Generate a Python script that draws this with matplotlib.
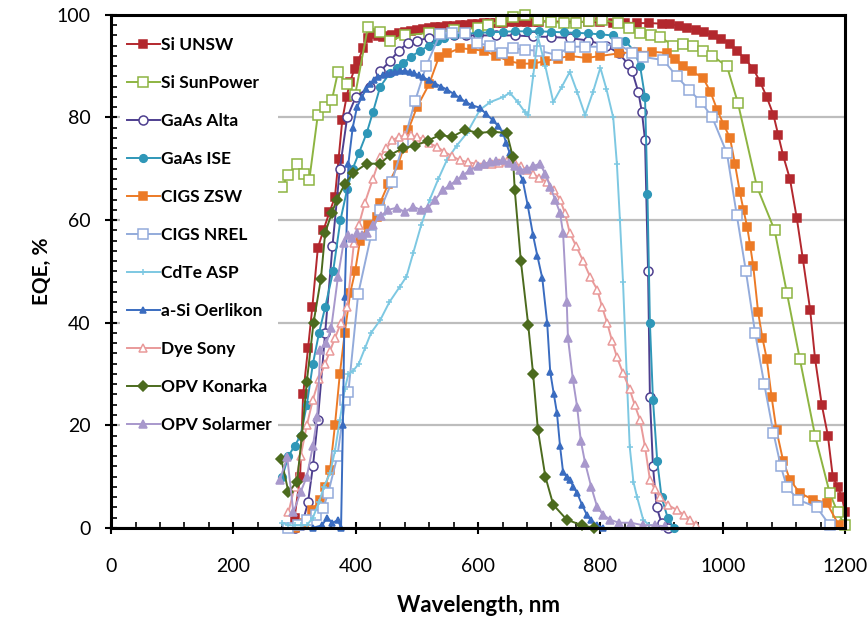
import matplotlib
matplotlib.use("Agg")
import matplotlib.pyplot as plt
from matplotlib.ticker import MultipleLocator

plt.rcParams['font.family'] = ['Lato', 'DejaVu Sans']

# ---- data (wavelength nm, EQE %) ----
wl_si_unsw = [300, 309, 314, 322, 329, 338, 347, 357, 366, 372, 378, 385, 391, 398, 404, 412, 420, 428, 436,
              444, 452, 460, 470, 480, 490, 500, 510, 520, 530, 540, 550, 560, 570, 580, 590, 600, 610, 620,
              630, 640, 650, 660, 670, 680, 690, 700, 720, 740, 760, 780, 800, 820, 840, 860, 880, 900, 914,
              928, 942, 956, 970, 984, 998, 1012, 1023, 1036, 1050, 1061, 1072, 1083, 1091, 1099, 1110, 1121,
              1131, 1143, 1151, 1162, 1172, 1180, 1188, 1195, 1200]
eqe_si_unsw = [2, 10, 26, 35, 43, 54.5, 58, 61.5, 64.5, 72, 79.5, 84, 87, 89.5, 91, 93.5, 95.5, 96.3, 95.8,
               95.6, 95.8, 96.1, 96.4, 96.7, 96.9, 97.1, 97.3, 97.5, 97.6, 97.7, 97.8, 97.9, 98.0, 98.1, 98.2,
               98.3, 98.4, 98.4, 98.5, 98.5, 98.6, 98.6, 98.6, 98.7, 98.7, 98.7, 98.7, 98.7, 98.7, 98.6, 98.6,
               98.5, 98.5, 98.4, 98.4, 98.3, 98.2, 97.9, 97.5, 97.1, 96.6, 96, 95.3, 94.3, 93, 91.5, 89.5, 87,
               84, 80.5, 76.5, 72.5, 68, 60.5, 52.5, 42.5, 33, 24, 18, 10, 8, 6, 3]

wl_si_sunpower = [279, 290, 304, 315, 324, 338, 350, 361, 371, 385, 399, 420, 440, 456, 480, 520, 560, 600, 617,
                  637, 657, 677, 698, 720, 740, 760, 782, 803, 829, 847, 865, 882, 898, 919, 935, 952, 968, 983,
                  1007, 1025, 1056, 1085, 1105, 1126, 1151, 1175, 1188, 1200]
eqe_si_sunpower = [66.5, 68.8, 71, 69, 67.8, 80.5, 82, 83.4, 88.9, 86.5, 84.4, 97.7, 96.7, 95, 96, 96.5, 97, 97.5,
                   98, 98.8, 99.6, 100, 99, 98.6, 98.4, 98.5, 98.8, 99, 98.4, 97.5, 96.5, 96, 95.7, 94, 94.3, 94,
                   93, 92, 90, 82.8, 66.5, 58, 45.8, 33, 18, 6.8, 3, 0.5]

wl_gaas_alta = [300, 312, 322, 330, 338, 350, 362, 374, 386, 400, 423, 440, 456, 470, 485, 500, 520, 540, 560,
                580, 600, 630, 660, 690, 720, 750, 780, 810, 830, 845, 852, 862, 868, 873, 878, 881, 886, 892,
                900, 910]
eqe_gaas_alta = [0, 0.5, 5, 12, 21, 38, 55, 70, 80, 84, 86, 89, 91, 93, 94.5, 95, 95.5, 95.8, 96, 96, 96, 96, 96,
                 95.8, 95.7, 95.5, 95, 94, 92.5, 90.5, 89, 85, 81, 75.6, 50, 25.5, 12, 4, 1, 0]

wl_gaas_ise = [280, 290, 300, 310, 320, 330, 340, 350, 363, 375, 386, 395, 405, 418, 428, 440, 456, 467, 477, 490,
               505, 520, 533, 545, 560, 580, 600, 620, 640, 660, 680, 700, 720, 740, 760, 780, 800, 820, 840,
               855, 865, 873, 877, 881, 886, 893, 900, 910, 920]
eqe_gaas_ise = [10, 14, 16, 18, 24, 32, 38, 43, 50, 60, 66, 70, 73, 77, 81, 86, 88.7, 89.7, 90.6, 91.8, 93, 94,
                95, 95.5, 96, 96.3, 96.5, 96.6, 96.7, 96.8, 96.8, 96.8, 96.7, 96.6, 96.5, 96.4, 96.2, 96, 95,
                93, 90, 84, 65, 40, 25, 13, 6, 2, 0]

wl_cigs_zsw = [300, 315, 329, 342, 350, 358, 366, 374, 382, 391, 399, 407, 420, 435, 440, 453, 469, 478, 486, 500,
               520, 536, 550, 570, 590, 610, 630, 650, 670, 690, 710, 730, 750, 778, 800, 830, 860, 885, 909,
               922, 935, 950, 968, 980, 991, 1002, 1012, 1020, 1028, 1034, 1040, 1045, 1050, 1058, 1065, 1072,
               1080, 1088, 1099, 1110, 1126, 1148, 1170, 1190]
eqe_cigs_zsw = [0, 1, 3.5, 5.5, 8, 11.3, 20, 30, 38, 45.8, 50, 56, 59, 60.6, 63.4, 67, 70.7, 74, 77.6, 82,
                86.5, 91.8, 92.5, 93.5, 93.3, 93, 92, 91, 90.5, 90.5, 91, 91.5, 92, 91.6, 92, 92.5, 92.8, 92.8,
                92.6, 91.5, 90, 89, 87.7, 85, 81.5, 78.5, 76, 71, 65.5, 62, 58.7, 55, 51, 42, 37, 33, 25.5, 19,
                13, 9.4, 6.8, 5.5, 4.9, 0.5]

wl_cigs_nrel = [290, 305, 320, 335, 347, 355, 370, 383, 388, 404, 425, 440, 459, 478, 497, 515, 538, 557, 579,
                598, 620, 639, 657, 677, 700, 729, 750, 775, 802, 827, 852, 870, 903, 925, 945, 965, 983, 1007,
                1023, 1038, 1053, 1068, 1083, 1095, 1105, 1123, 1154, 1175]
eqe_cigs_nrel = [0, 0.5, 1.5, 2.5, 3.9, 6.8, 14, 25, 26.5, 45.6, 57, 62, 67.4, 75, 83.2, 90, 96.3, 96.5, 96.5,
                 94.5, 94, 92.6, 93.5, 93.2, 93, 92.2, 93.8, 93.8, 93.8, 94.5, 92.6, 91.8, 91.2, 88, 85.4, 83,
                 80, 73, 61, 50, 38, 28, 18.5, 12, 8, 5.5, 4, 0.5]

wl_cdte_asp = [280, 290, 300, 310, 320, 330, 340, 348, 358, 366, 374, 382, 388, 395, 405, 415, 425, 440, 455, 472,
               483, 494, 507, 521, 535, 549, 565, 582, 603, 620, 641, 652, 665, 677, 682, 690, 698, 710, 723, 737,
               750, 762, 775, 788, 800, 810, 821, 827, 832, 837, 843, 848, 854, 860, 870, 880]
eqe_cdte_asp = [1, 0.5, 0.5, 0.5, 0.5, 2, 5, 8, 10.7, 15, 21, 27, 30, 30.5, 32, 35, 38, 40.5, 44, 47, 49, 53.6,
                59, 64, 68, 71.7, 74.5, 77, 81.5, 83, 84, 84.8, 83, 81, 80.5, 88, 95.7, 90, 83, 86, 88.9, 85,
                80.5, 85, 89.7, 85.5, 80, 71, 60, 48, 30, 15.8, 9, 6, 1.6, 0.5]

wl_asi_oerlikon = [330, 345, 353, 362, 371, 376, 379, 382, 388, 395, 402, 410, 417, 423, 430, 437, 444, 451, 458,
                   465, 472, 480, 489, 496, 503, 510, 520, 530, 540, 550, 560, 570, 580, 590, 603, 613, 624, 633,
                   641, 646, 652, 662, 673, 681, 690, 697, 705, 713, 718, 724, 729, 734, 739, 745, 750, 756, 762,
                   770, 778, 785, 795, 805]
eqe_asi_oerlikon = [0, 0.5, 2, 1, 1.5, 0, 20, 45, 71, 78, 82, 84, 85.5, 86.5, 87.3, 87.8, 88.2, 88.5, 88.7, 88.9,
                    89, 89.1, 88.9, 88.6, 88.2, 87.8, 87.3, 86.6, 86, 85.4, 84.6, 83.8, 83, 82.4, 81.9, 80.7,
                    79.5, 78.3, 77, 75, 73, 70.5, 67.8, 63, 57, 53, 48.7, 40, 30.4, 26, 22.4, 16, 10.9, 10, 9.4,
                    8, 6.8, 4.5, 2.5, 1.5, 0.5, 0]

wl_dye_sony = [290, 300, 310, 320, 330, 340, 350, 358, 366, 376, 386, 397, 405, 415, 428, 440, 450, 460, 470, 480,
               490, 500, 510, 520, 533, 545, 557, 570, 583, 596, 609, 622, 635, 648, 660, 670, 680, 690, 700, 713,
               724, 734, 742, 750, 760, 772, 783, 795, 803, 811, 819, 827, 837, 848, 856, 865, 873, 881, 889, 897,
               910, 925, 937, 947, 957]
eqe_dye_sony = [3, 8, 14, 20, 25, 29, 32, 34.5, 37, 40, 43, 55.5, 59, 63.4, 68, 72.3, 74, 75.6, 76.2, 76.5,
                76.5, 76.2, 75.8, 75, 74.3, 73.3, 72.5, 71.7, 71.3, 71, 71, 71, 71.2, 71.5, 71.2, 70.5, 69.8, 69,
                68.3, 67.4, 65.8, 64, 61.4, 57.5, 55, 52, 49, 46.4, 43, 40, 36.5, 33.3, 30.2, 27, 24, 21, 15.8,
                9.4, 7.5, 6, 4.5, 3.5, 2.5, 1.6, 0.5]

wl_opv_konarka = [278, 290, 304, 312, 320, 331, 343, 350, 361, 369, 382, 396, 418, 440, 456, 477, 497, 518, 538,
                  557, 579, 600, 623, 647, 657, 660, 670, 682, 690, 698, 710, 723, 745, 770, 790]
eqe_opv_konarka = [13.5, 7, 9, 18, 28.5, 40, 48.5, 57.5, 61.4, 64, 67, 69.2, 71, 71, 72.7, 74, 74.5, 75.5, 76.6,
                   76.2, 77.6, 77, 77.2, 77, 72.3, 65.9, 52, 39.6, 30, 19, 10, 4.5, 1.6, 0.5, 0]

wl_opv_solarmer = [276, 288, 298, 310, 320, 330, 337, 342, 352, 360, 371, 380, 387, 394, 402, 410, 418, 428, 441,
                   453, 467, 480, 494, 506, 518, 530, 543, 554, 565, 576, 587, 600, 610, 620, 630, 641, 650, 660,
                   669, 680, 690, 701, 710, 718, 726, 734, 739, 745, 747, 755, 762, 768, 775, 785, 795, 805, 816,
                   830, 850, 870, 890, 905]
eqe_opv_solarmer = [9.4, 13.8, 3, 7, 10, 16, 21.6, 34.7, 36, 39, 49, 55.5, 57, 56.5, 57.5, 57, 57.5, 59, 60.8,
                    62, 62.4, 61.6, 62.6, 62, 62.4, 64, 65.9, 66.8, 67.8, 68.8, 69.8, 70.5, 71, 71.3, 71.5, 71.7,
                    71.2, 70.5, 69.8, 70, 70.5, 71, 69, 66.5, 64, 61.4, 57.5, 44, 37, 29, 23.6, 17, 12.7, 8, 4,
                    2.5, 1.6, 1, 1, 0.5, 0.5, 0.3]

series = [
    ("Si UNSW", wl_si_unsw, eqe_si_unsw, "#B3282E", "s", "#B3282E", 5.5),
    ("Si SunPower", wl_si_sunpower, eqe_si_sunpower, "#8DB441", "s", "white", 7),
    ("GaAs Alta", wl_gaas_alta, eqe_gaas_alta, "#4E3F8F", "o", "white", 6.5),
    ("GaAs ISE", wl_gaas_ise, eqe_gaas_ise, "#2F97B8", "o", "#2F97B8", 5.5),
    ("CIGS ZSW", wl_cigs_zsw, eqe_cigs_zsw, "#EC7A26", "s", "#EC7A26", 5.5),
    ("CIGS NREL", wl_cigs_nrel, eqe_cigs_nrel, "#93ABDB", "s", "white", 7),
    ("CdTe ASP", wl_cdte_asp, eqe_cdte_asp, "#7DC8E2", "+", "#7DC8E2", 4),
    ("a-Si Oerlikon", wl_asi_oerlikon, eqe_asi_oerlikon, "#3A6CC0", "^", "#3A6CC0", 5),
    ("Dye Sony", wl_dye_sony, eqe_dye_sony, "#E99A9A", "^", "white", 5.5),
    ("OPV Konarka", wl_opv_konarka, eqe_opv_konarka, "#4C6B1E", "D", "#4C6B1E", 5),
    ("OPV Solarmer", wl_opv_solarmer, eqe_opv_solarmer, "#A898CC", "^", "#A898CC", 6),
]

fig = plt.figure(figsize=(8.68, 6.21), dpi=100)
ax = fig.add_axes([0.128, 0.150, 0.8455, 0.826])

for label, x, y, color, marker, face, ms in series:
    ax.plot(x, y, color=color, lw=1.4, marker=marker, ms=ms, mfc=face, mec=color,
            mew=1.1, label=label, clip_on=False, zorder=3)

ax.set_xlim(0, 1200)
ax.set_ylim(0, 100)
ax.xaxis.set_major_locator(MultipleLocator(200))
ax.xaxis.set_minor_locator(MultipleLocator(40))
ax.yaxis.set_major_locator(MultipleLocator(20))
ax.yaxis.set_minor_locator(MultipleLocator(2))
ax.tick_params(which='major', direction='inout', length=8, width=1.5, labelsize=14)
ax.tick_params(axis='x', which='major', pad=18)
ax.tick_params(axis='y', which='major', pad=11)
ax.tick_params(which='minor', direction='in', length=4, width=1.2)
ax.grid(axis='y', which='major', color='#BDBDBD', lw=1.6, zorder=0)
ax.set_axisbelow(True)
for sp in ax.spines.values():
    sp.set_linewidth(2.2)
    sp.set_zorder(4)

ax.set_xlabel("Wavelength, nm", fontsize=16, fontweight='bold', labelpad=14)
ax.set_ylabel("EQE, %", fontsize=15, fontweight='bold', labelpad=3)

leg = ax.legend(loc='upper left', bbox_to_anchor=(0.0, 0.988), fontsize=12.5,
                labelspacing=1.27, handlelength=1.9, handletextpad=0.05, borderpad=0.4,
                frameon=True, fancybox=False, framealpha=1)
leg.get_frame().set_edgecolor('none')
leg.set_zorder(5)
for t in leg.get_texts():
    t.set_fontweight('bold')

fig.savefig("out.png", dpi=100)
